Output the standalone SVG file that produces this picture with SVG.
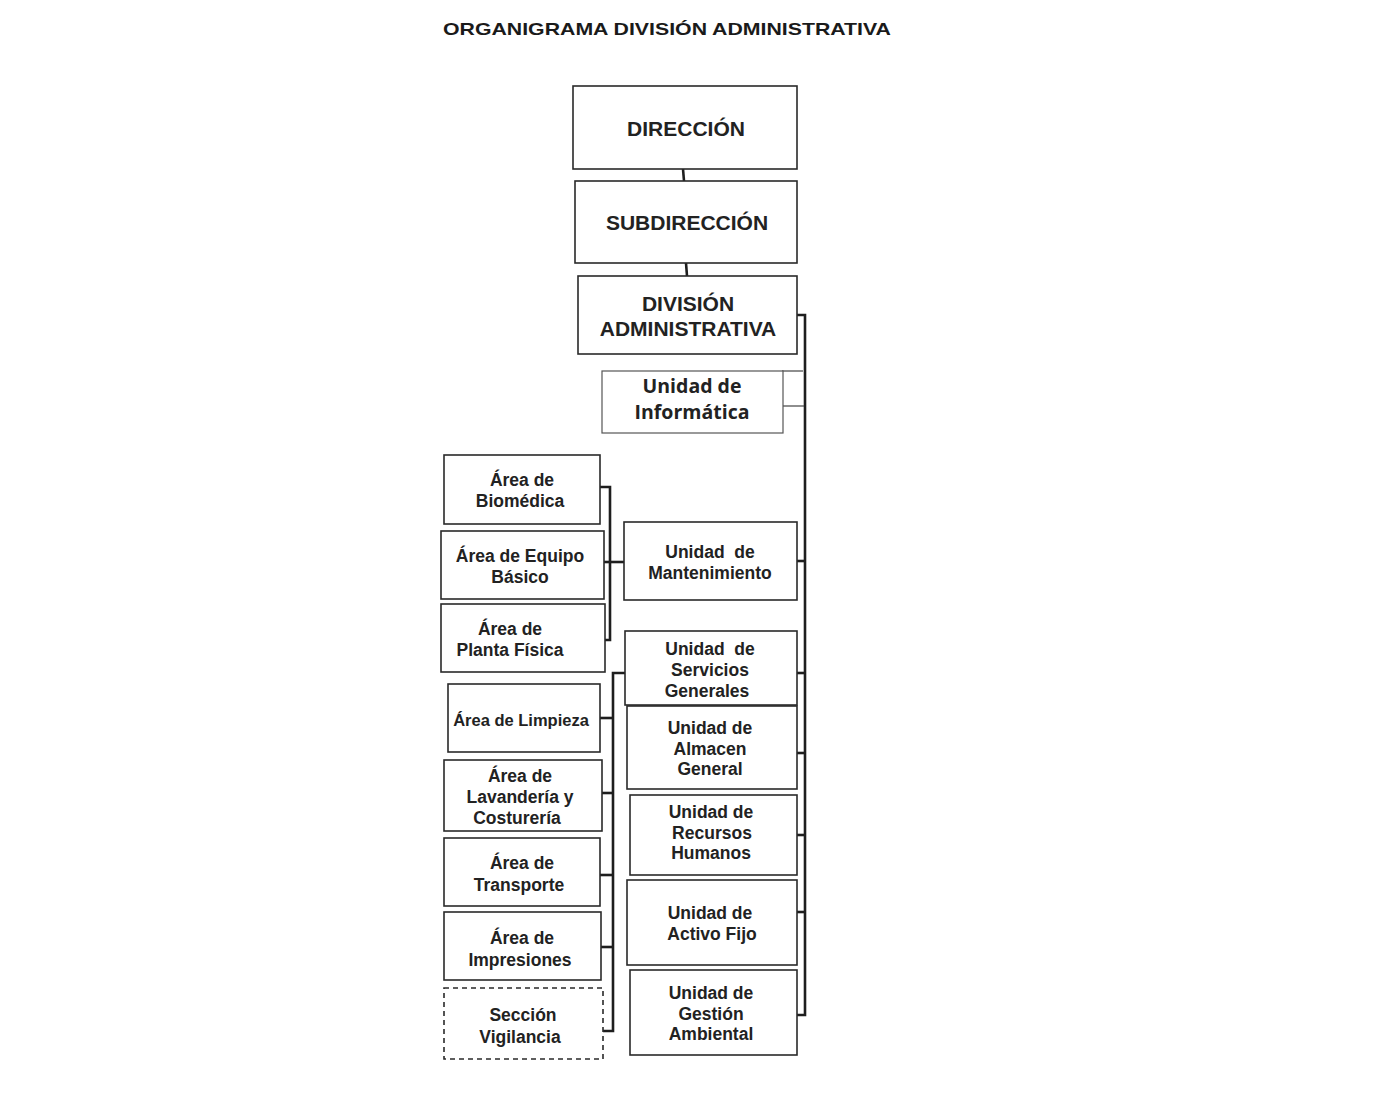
<svg xmlns="http://www.w3.org/2000/svg" width="1393" height="1099" viewBox="0 0 1393 1099">
<style>
.box{fill:#fff;stroke:#2a2a2a;stroke-width:1.6}
.dash{fill:#fff;stroke:#2a2a2a;stroke-width:1.6;stroke-dasharray:5 4}
.t{font-family:"Liberation Sans",Arial,sans-serif;font-weight:bold;font-size:17.5px;fill:#222;text-anchor:middle}
.big{font-size:21px}
.inf{font-family:"Open Sans","Noto Sans",sans-serif;font-weight:bold;font-size:19.5px;fill:#222;text-anchor:middle}
.title{font-family:"Liberation Sans",Arial,sans-serif;font-weight:bold;font-size:17px;fill:#1a1a1a}
.c{fill:none;stroke:#1e1e1e;stroke-width:2.6}
.thin{fill:none;stroke:#444;stroke-width:1.2}
</style>
<rect width="1393" height="1099" fill="#fff"/>
<text class="title" x="443" y="35" textLength="448" lengthAdjust="spacingAndGlyphs">ORGANIGRAMA DIVISIÓN ADMINISTRATIVA</text>

<g id="connectors">
<path class="c" d="M683 169 L684 181"/>
<path class="c" d="M686 263 L687 276"/>
<path class="c" d="M797 315 H805 V1015 H797"/>
<path class="thin" d="M783 406 H804"/>
<path class="thin" d="M782 371 H803" stroke="#aaa"/>
<path class="c" d="M797 561 H805"/>
<path class="c" d="M797 673 H805"/>
<path class="c" d="M797 753 H805"/>
<path class="c" d="M797 835 H805"/>
<path class="c" d="M797 912 H805"/>
<path class="c" d="M600 487 H610 V640 H604"/>
<path class="c" d="M598 562 H624"/>
<path class="c" d="M625 673 H613 V1031 H602"/>
<path class="c" d="M600 718 H613"/>
<path class="c" d="M598 793 H613"/>
<path class="c" d="M598 875 H613"/>
<path class="c" d="M601 947 H613"/>
</g>

<g id="direccion"><rect class="box" x="573" y="86" width="224" height="83"/><text class="t big" x="686" y="136">DIRECCIÓN</text></g>
<g id="subdireccion"><rect class="box" x="575" y="181" width="222" height="82"/><text class="t big" x="687" y="230">SUBDIRECCIÓN</text></g>
<g id="division"><rect class="box" x="578" y="276" width="219" height="78"/><text class="t big" x="688" y="311">DIVISIÓN</text><text class="t big" x="688" y="336">ADMINISTRATIVA</text></g>
<g id="informatica"><rect class="box" x="602" y="371" width="181" height="62" style="stroke:#555;stroke-width:1.2"/><text class="inf" x="692" y="393">Unidad de</text><text class="inf" x="692" y="419">Informática</text></g>

<g id="biomedica"><rect class="box" x="444" y="455" width="156" height="69"/><text class="t" x="522" y="486">Área de</text><text class="t" x="520" y="507">Biomédica</text></g>
<g id="equipo"><rect class="box" x="441" y="531" width="163" height="68"/><text class="t" x="520" y="562">Área de Equipo</text><text class="t" x="520" y="583">Básico</text></g>
<g id="planta"><rect class="box" x="441" y="604" width="164" height="68"/><text class="t" x="510" y="635">Área de</text><text class="t" x="510" y="656">Planta Física</text></g>
<g id="mantenimiento"><rect class="box" x="624" y="522" width="173" height="78"/><text class="t" x="710" y="558" xml:space="preserve">Unidad  de</text><text class="t" x="710" y="579">Mantenimiento</text></g>
<g id="servicios"><rect class="box" x="625" y="631" width="172" height="74"/><text class="t" x="710" y="655" xml:space="preserve">Unidad  de</text><text class="t" x="710" y="676">Servicios</text><text class="t" x="707" y="697">Generales</text></g>
<g id="limpieza"><rect class="box" x="448" y="684" width="152" height="68"/><text class="t" x="521" y="726" style="font-size:16.5px">Área de Limpieza</text></g>
<g id="lavanderia"><rect class="box" x="444" y="760" width="158" height="71"/><text class="t" x="520" y="782">Área de</text><text class="t" x="520" y="803">Lavandería y</text><text class="t" x="517" y="824">Costurería</text></g>
<g id="transporte"><rect class="box" x="444" y="838" width="156" height="68"/><text class="t" x="522" y="869">Área de</text><text class="t" x="519" y="891">Transporte</text></g>
<g id="impresiones"><rect class="box" x="444" y="912" width="157" height="68"/><text class="t" x="522" y="944">Área de</text><text class="t" x="520" y="966">Impresiones</text></g>
<g id="vigilancia"><rect class="dash" x="444" y="988" width="159" height="71"/><text class="t" x="523" y="1021">Sección</text><text class="t" x="520" y="1043">Vigilancia</text></g>
<g id="almacen"><rect class="box" x="627" y="706" width="170" height="83"/><text class="t" x="710" y="734">Unidad de</text><text class="t" x="710" y="755">Almacen</text><text class="t" x="710" y="775">General</text></g>
<g id="rrhh"><rect class="box" x="630" y="795" width="167" height="80"/><text class="t" x="711" y="818">Unidad de</text><text class="t" x="712" y="839">Recursos</text><text class="t" x="711" y="859">Humanos</text></g>
<g id="activo"><rect class="box" x="627" y="880" width="170" height="85"/><text class="t" x="710" y="919">Unidad de</text><text class="t" x="712" y="940">Activo Fijo</text></g>
<g id="gestion"><rect class="box" x="630" y="970" width="167" height="85"/><text class="t" x="711" y="999">Unidad de</text><text class="t" x="711" y="1020">Gestión</text><text class="t" x="711" y="1040">Ambiental</text></g>
</svg>
